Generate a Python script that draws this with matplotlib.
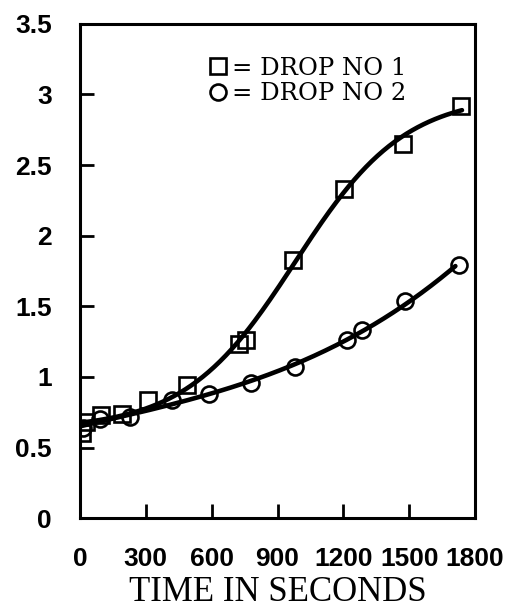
import numpy as np
import matplotlib.pyplot as plt

# Measured points, drop no 1 (squares)
t1 = [10, 30, 95, 190, 310, 490, 725, 755, 970, 1205, 1470, 1735]
v1 = [0.60, 0.68, 0.73, 0.74, 0.84, 0.94, 1.23, 1.26, 1.83, 2.33, 2.65, 2.92]

# Measured points, drop no 2 (circles)
t2 = [15, 90, 230, 420, 590, 780, 980, 1215, 1285, 1480, 1725]
v2 = [0.64, 0.70, 0.72, 0.84, 0.88, 0.955, 1.07, 1.26, 1.33, 1.54, 1.79]

xticks = [0, 300, 600, 900, 1200, 1500, 1800]
yticks = [0, 0.5, 1, 1.5, 2, 2.5, 3, 3.5]
ytick_labels = ['0', '0.5', '1', '1.5', '2', '2.5', '3', '3.5']


def fit_logistic(t, v):
    # brute-force centre/width, linear least squares for base and height
    t = np.asarray(t, float)
    v = np.asarray(v, float)
    best = None
    for c in np.linspace(600, 1600, 101):
        for s in np.linspace(100, 600, 101):
            g = 1 / (1 + np.exp(-(t - c) / s))
            A = np.column_stack([np.ones_like(t), g])
            coef, *_ = np.linalg.lstsq(A, v, rcond=None)
            err = np.sum((A @ coef - v) ** 2)
            if best is None or err < best[0]:
                best = (err, c, s, coef)
    _, c, s, (a, b) = best
    return lambda x: a + b / (1 + np.exp(-(x - c) / s))


# Smooth fitted curves through each set
curve1 = fit_logistic(t1, v1)
fit2 = np.polyfit(t2, v2, 3)
tt1 = np.linspace(0, 1740, 200)
tt2 = np.linspace(0, 1710, 200)

fig = plt.figure(figsize=(5.12, 6.09), dpi=100)
ax = fig.add_axes([0.156, 0.149, 0.772, 0.812])

ax.plot(tt1, curve1(tt1), color='black', lw=3.3, solid_capstyle='round')
ax.plot(tt2, np.polyval(fit2, tt2), color='black', lw=3.3, solid_capstyle='round')

ax.plot(t1, v1, 's', ms=11.5, mfc='none', mec='black', mew=1.9, label='= DROP NO 1')
ax.plot(t2, v2, 'o', ms=11.5, mfc='none', mec='black', mew=1.9, label='= DROP NO 2')

ax.set_xlim(0, 1800)
ax.set_ylim(0, 3.5)
ax.set_xticks(xticks)
ax.set_yticks(yticks)
ax.set_yticklabels(ytick_labels)

for sp in ax.spines.values():
    sp.set_linewidth(2.2)

ax.tick_params(direction='in', length=10, width=2, labelsize=19)
ax.tick_params(axis='x', pad=21)
ax.tick_params(axis='y', pad=20)
for lab in ax.get_xticklabels() + ax.get_yticklabels():
    lab.set_fontfamily('Liberation Sans')
    lab.set_fontweight('bold')

ax.set_xlabel('TIME IN SECONDS', fontfamily='Liberation Serif', fontsize=25, labelpad=3)

ax.legend(loc='upper left', bbox_to_anchor=(0.30, 0.958), frameon=False,
          handlelength=0.6, handletextpad=0.3, labelspacing=0.1,
          borderpad=0, prop={'family': 'DejaVu Serif', 'size': 17.5})

fig.savefig('out.png', dpi=100)
